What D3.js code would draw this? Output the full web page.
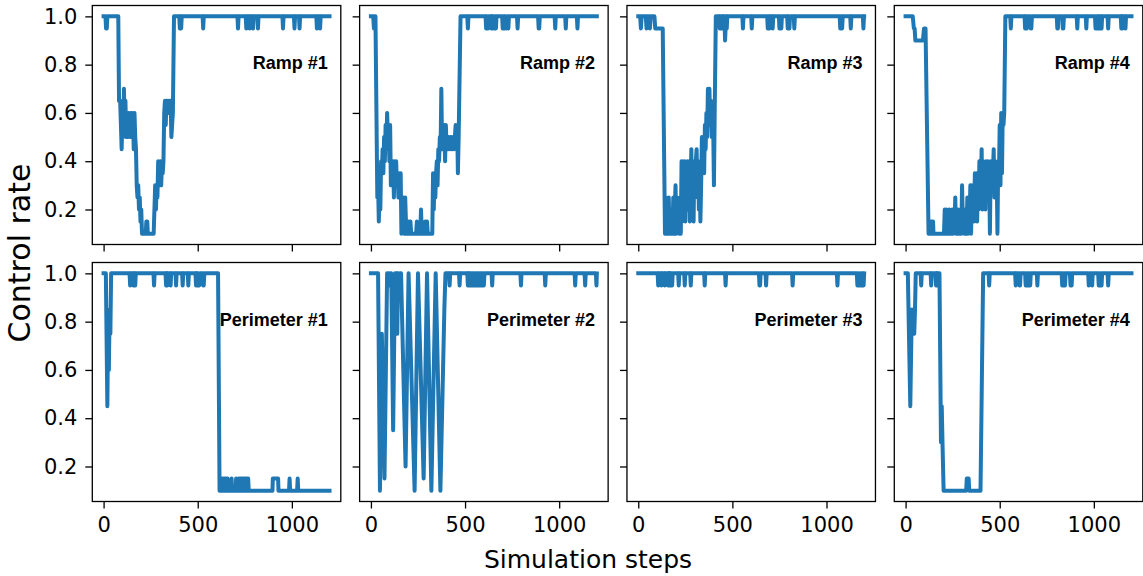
<!DOCTYPE html>
<html>
<head>
<meta charset="utf-8">
<script src="https://cdn.jsdelivr.net/npm/d3@7"></script>
<style>
  body { margin: 0; background: #fff; }
  svg { display: block; }
</style>
</head>
<body>
<svg id="chart" width="1143" height="576"></svg>
<script>
// Control rate per simulation step, as [step, rate] vertices for each controller.
const ramp1 = [[0,1],[10,1],[13,0.95],[17,0.95],[20,1],[78,1],[82,0.65],[88,0.65],[92,0.55],[96,0.45],[100,0.6],[104,0.5],[108,0.7],[112,0.55],[116,0.65],[120,0.5],[124,0.6],[128,0.5],[132,0.6],[136,0.55],[140,0.6],[144,0.5],[148,0.6],[152,0.55],[156,0.6],[160,0.45],[164,0.6],[168,0.5],[172,0.45],[176,0.3],[180,0.25],[184,0.3],[188,0.2],[192,0.25],[196,0.15],[200,0.2],[204,0.1],[224,0.1],[227,0.15],[232,0.15],[235,0.1],[266,0.1],[270,0.2],[274,0.3],[278,0.2],[282,0.3],[286,0.25],[290,0.4],[294,0.3],[298,0.35],[302,0.4],[306,0.3],[310,0.4],[314,0.35],[318,0.4],[322,0.6],[326,0.65],[330,0.55],[334,0.65],[338,0.6],[342,0.65],[346,0.6],[350,0.65],[356,0.65],[360,0.5],[364,0.55],[368,0.6],[374,1],[402,1],[405,0.95],[408,1],[412,0.95],[415,1],[526,1],[529,0.95],[532,1],[711,1],[714,0.95],[717,1],[755,1],[758,0.95],[761,1],[773,1],[776,0.95],[779,1],[791,1],[794,0.95],[797,1],[817,1],[820,0.95],[823,1],[950,1],[953,0.95],[956,1],[1011,1],[1014,0.95],[1017,1],[1038,1],[1041,0.95],[1044,1],[1130,1],[1133,0.95],[1136,1],[1147,1],[1150,0.95],[1153,1],[1200,1]];

const ramp2 = [[0,1],[12,1],[16,0.95],[20,1],[24,1],[34,0.25],[38,0.3],[42,0.15],[46,0.3],[50,0.2],[54,0.4],[58,0.35],[62,0.45],[66,0.35],[70,0.5],[74,0.4],[78,0.55],[82,0.45],[86,0.6],[90,0.5],[94,0.55],[98,0.4],[102,0.55],[106,0.3],[110,0.4],[114,0.3],[118,0.4],[122,0.25],[126,0.4],[130,0.3],[134,0.4],[138,0.3],[142,0.35],[146,0.25],[150,0.35],[154,0.3],[158,0.35],[162,0.1],[166,0.25],[170,0.15],[174,0.25],[178,0.1],[182,0.25],[186,0.15],[190,0.1],[194,0.15],[198,0.1],[202,0.15],[206,0.1],[210,0.15],[214,0.1],[240,0.1],[244,0.15],[248,0.1],[262,0.1],[266,0.2],[270,0.1],[284,0.1],[288,0.15],[292,0.1],[298,0.15],[302,0.1],[326,0.1],[330,0.35],[334,0.2],[338,0.35],[342,0.25],[346,0.35],[350,0.4],[354,0.3],[358,0.45],[362,0.4],[366,0.5],[370,0.45],[374,0.7],[378,0.45],[382,0.55],[386,0.45],[390,0.55],[394,0.4],[398,0.55],[402,0.45],[406,0.5],[410,0.45],[414,0.5],[418,0.45],[422,0.5],[426,0.45],[430,0.5],[434,0.45],[438,0.5],[442,0.45],[446,0.5],[450,0.55],[454,0.5],[458,0.55],[462,0.35],[466,0.5],[476,1],[512,1],[515,0.95],[518,1],[609,1],[612,0.95],[615,1],[619,0.95],[622,0.95],[625,1],[637,1],[640,0.95],[643,1],[647,0.95],[650,1],[654,0.95],[657,0.95],[660,1],[664,0.95],[667,1],[697,1],[700,0.95],[703,0.95],[706,1],[710,0.95],[713,1],[718,0.95],[721,0.95],[724,1],[730,0.95],[733,1],[776,1],[779,0.95],[782,1],[888,1],[891,0.95],[894,0.95],[897,1],[976,1],[979,0.95],[982,1],[1032,1],[1035,0.95],[1038,1],[1094,1],[1097,0.95],[1100,1],[1200,1]];

const ramp3 = [[0,1],[10,1],[14,0.95],[18,1],[40,1],[44,0.95],[48,1],[58,1],[62,0.95],[66,1],[86,1],[90,0.95],[130,0.95],[142,0.1],[146,0.25],[150,0.1],[154,0.2],[158,0.1],[162,0.25],[166,0.1],[170,0.15],[174,0.1],[178,0.2],[182,0.1],[186,0.25],[190,0.1],[194,0.2],[198,0.3],[202,0.1],[206,0.25],[210,0.15],[214,0.2],[218,0.1],[222,0.25],[226,0.1],[230,0.4],[234,0.15],[238,0.4],[242,0.2],[246,0.4],[250,0.15],[254,0.35],[258,0.2],[262,0.4],[266,0.2],[270,0.4],[274,0.15],[278,0.3],[282,0.45],[286,0.2],[290,0.4],[294,0.15],[298,0.4],[302,0.25],[306,0.4],[310,0.45],[314,0.3],[318,0.4],[322,0.2],[326,0.35],[330,0.15],[334,0.3],[338,0.5],[342,0.4],[346,0.5],[350,0.35],[354,0.55],[358,0.45],[362,0.6],[366,0.5],[370,0.7],[374,0.55],[378,0.7],[382,0.55],[386,0.65],[390,0.5],[394,0.6],[398,0.55],[402,0.3],[406,0.6],[412,1],[430,1],[433,0.95],[436,1],[439,0.95],[442,0.95],[445,1],[448,0.95],[451,1],[455,0.95],[458,1],[461,0.9],[464,0.95],[467,1],[470,0.95],[473,1],[553,1],[556,0.95],[559,1],[600,1],[603,0.95],[606,1],[685,1],[688,0.95],[691,0.95],[694,1],[697,0.95],[700,1],[711,1],[714,0.95],[717,1],[747,1],[750,0.95],[753,1],[760,0.95],[763,1],[791,1],[794,0.95],[797,1],[803,0.95],[806,1],[826,1],[829,0.95],[832,1],[1070,1],[1073,0.95],[1076,0.95],[1079,1],[1083,0.95],[1086,1],[1126,1],[1129,0.95],[1132,1],[1193,1],[1196,0.95],[1199,1],[1200,1]];

const ramp4 = [[0,1],[38,1],[44,0.95],[48,0.95],[52,0.9],[92,0.9],[98,0.95],[106,0.95],[122,0.1],[134,0.1],[136,0.15],[146,0.15],[148,0.1],[204,0.1],[208,0.2],[212,0.1],[216,0.2],[220,0.1],[224,0.15],[228,0.1],[232,0.2],[236,0.1],[240,0.15],[244,0.1],[248,0.2],[252,0.1],[256,0.2],[260,0.15],[264,0.25],[268,0.1],[272,0.2],[276,0.1],[280,0.2],[284,0.1],[288,0.15],[292,0.2],[296,0.1],[300,0.3],[304,0.15],[308,0.2],[312,0.1],[316,0.2],[320,0.15],[324,0.1],[328,0.25],[332,0.1],[336,0.25],[340,0.15],[344,0.3],[348,0.1],[352,0.3],[356,0.2],[360,0.3],[364,0.15],[368,0.35],[372,0.2],[376,0.35],[380,0.15],[384,0.3],[388,0.2],[392,0.4],[396,0.25],[400,0.3],[404,0.45],[408,0.2],[412,0.4],[416,0.3],[420,0.35],[424,0.2],[428,0.4],[432,0.3],[436,0.4],[440,0.25],[444,0.35],[448,0.1],[452,0.4],[456,0.3],[460,0.4],[464,0.35],[468,0.45],[472,0.25],[476,0.4],[480,0.3],[484,0.35],[488,0.1],[492,0.4],[496,0.35],[500,0.55],[504,0.3],[508,0.6],[512,0.35],[516,0.6],[520,0.55],[524,0.6],[530,1],[556,1],[559,0.95],[562,1],[632,1],[635,0.95],[638,1],[641,0.95],[644,0.95],[647,1],[662,1],[665,0.95],[668,0.95],[671,1],[803,1],[806,0.95],[809,0.95],[812,1],[832,1],[835,0.95],[838,0.95],[841,1],[909,1],[912,0.95],[915,1],[957,1],[960,0.95],[963,1],[1006,1],[1009,0.95],[1012,0.95],[1015,1],[1023,1],[1026,0.95],[1029,1],[1038,1],[1041,0.95],[1044,1],[1073,1],[1076,0.95],[1079,1],[1143,1],[1146,0.95],[1149,1],[1152,0.95],[1155,1],[1165,1],[1168,0.95],[1171,1],[1200,1]];

const perimeter1 = [[0,1],[12,1],[20,0.45],[24,0.8],[28,0.6],[32,0.85],[36,0.75],[40,1],[138,1],[141,0.95],[144,1],[155,1],[158,0.95],[161,1],[165,1],[168,0.95],[171,1],[265,1],[268,0.95],[271,1],[329,1],[332,0.95],[335,1],[338,0.95],[341,1],[353,1],[356,0.95],[359,1],[382,1],[385,0.95],[388,1],[417,1],[420,0.95],[423,1],[447,1],[450,0.95],[453,1],[488,1],[491,0.95],[494,1],[497,0.95],[500,1],[508,0.95],[511,1],[526,1],[529,0.95],[532,0.95],[535,1],[608,1],[616,0.1],[622,0.1],[624,0.15],[627,0.1],[629,0.15],[632,0.1],[634,0.15],[637,0.1],[639,0.15],[642,0.1],[644,0.15],[647,0.1],[649,0.15],[652,0.1],[654,0.15],[657,0.1],[659,0.15],[662,0.1],[678,0.1],[680,0.15],[683,0.1],[702,0.1],[704,0.15],[707,0.1],[716,0.1],[718,0.15],[721,0.1],[723,0.15],[726,0.1],[728,0.15],[731,0.1],[733,0.15],[736,0.1],[738,0.15],[741,0.1],[743,0.15],[746,0.1],[748,0.15],[751,0.1],[753,0.15],[756,0.1],[758,0.15],[761,0.1],[763,0.15],[766,0.1],[768,0.15],[771,0.1],[897,0.1],[899,0.15],[927,0.15],[929,0.1],[985,0.1],[988,0.15],[991,0.1],[1028,0.1],[1031,0.15],[1034,0.1],[1200,0.1]];

const perimeter2 = [[0,1],[38,1],[48,0.1],[58,0.75],[72,0.15],[86,1],[90,0.95],[94,1],[100,0.95],[104,1],[108,1],[118,0.35],[128,1],[132,0.95],[136,1],[140,0.75],[144,1],[150,0.95],[154,1],[160,1],[184,0.2],[200,1],[232,0.1],[250,1],[280,0.15],[298,1],[321,0.1],[344,1],[369,0.1],[390,0.85],[396,1],[415,1],[418,0.95],[421,1],[468,1],[471,0.95],[474,1],[512,1],[515,0.95],[518,1],[522,0.95],[525,1],[530,0.95],[533,1],[539,0.95],[542,1],[547,0.95],[550,1],[557,0.95],[560,1],[565,0.95],[568,1],[574,0.95],[577,1],[582,0.95],[585,1],[591,0.95],[594,1],[600,0.95],[603,1],[641,1],[644,0.95],[647,1],[794,1],[797,0.95],[800,1],[923,1],[926,0.95],[929,1],[1082,1],[1085,0.95],[1088,1],[1135,1],[1138,0.95],[1141,1],[1195,1],[1198,0.95],[1200,1]];

const perimeter3 = [[0,1],[103,1],[106,0.95],[109,1],[120,1],[123,0.95],[126,1],[138,1],[141,0.95],[144,1],[156,1],[159,0.95],[162,1],[165,0.95],[168,1],[171,0.95],[174,1],[180,0.95],[183,1],[212,1],[215,0.95],[218,1],[244,1],[247,0.95],[250,1],[276,1],[279,0.95],[282,1],[350,1],[353,0.95],[356,1],[461,1],[464,0.95],[467,1],[641,1],[644,0.95],[647,0.95],[650,1],[676,1],[679,0.95],[682,1],[817,1],[820,0.95],[823,1],[1055,1],[1058,0.95],[1061,1],[1161,1],[1164,0.95],[1167,1],[1170,0.95],[1173,1],[1180,0.95],[1183,1],[1190,0.95],[1193,1],[1197,0.95],[1200,1]];

const perimeter4 = [[0,1],[12,1],[25,0.45],[33,0.85],[38,0.75],[42,0.82],[46,0.75],[50,0.85],[54,1],[80,1],[83,0.95],[86,1],[133,1],[136,0.95],[139,1],[159,1],[162,0.95],[165,1],[168,0.95],[171,1],[180,1],[188,0.3],[192,0.45],[196,0.3],[202,0.1],[322,0.1],[325,0.15],[335,0.15],[338,0.1],[398,0.1],[412,1],[441,1],[444,0.95],[447,1],[582,1],[585,0.95],[588,1],[602,1],[605,0.95],[608,0.95],[611,1],[635,1],[638,0.95],[641,1],[644,0.95],[647,1],[653,0.95],[656,1],[662,0.95],[665,1],[697,1],[700,0.95],[703,1],[829,1],[832,0.95],[835,1],[838,0.95],[841,1],[847,0.95],[850,1],[873,1],[876,0.95],[879,1],[882,0.95],[885,1],[970,1],[973,0.95],[976,1],[988,1],[991,0.95],[994,1],[1023,1],[1026,0.95],[1029,1],[1035,0.95],[1038,1],[1041,0.95],[1044,1],[1073,1],[1076,0.95],[1079,1],[1200,1]];

const panelTitles = ["Ramp #1", "Ramp #2", "Ramp #3", "Ramp #4",
                     "Perimeter #1", "Perimeter #2", "Perimeter #3", "Perimeter #4"];
const panelSeries = [ramp1, ramp2, ramp3, ramp4, perimeter1, perimeter2, perimeter3, perimeter4];

const xTickValues = [0, 500, 1000];
const yTickValues = [0.2, 0.4, 0.6, 0.8, 1.0];
const stepDomain = [-60, 1260];
const rateDomain = [0.055, 1.045];

const xAxisLabel = "Simulation steps";
const yAxisLabel = "Control rate";

// Layout of the 2 x 4 grid of panels
const panelW = 248.5, panelH = 239;
const colLeft = c => 92.3 + c * 267.33;
const rowTop = [5.5, 262.5];
const lineColor = "#1f77b4";
const tickFont = "'DejaVu Sans', sans-serif";

const svg = d3.select("#chart");
svg.append("rect").attr("width", 1143).attr("height", 576).attr("fill", "#fff");

panelSeries.forEach((series, k) => {
  const r = Math.floor(k / 4), c = k % 4;
  const g = svg.append("g").attr("transform", `translate(${colLeft(c)},${rowTop[r]})`);

  const x = d3.scaleLinear().domain(stepDomain).range([0, panelW]);
  const y = d3.scaleLinear().domain(rateDomain).range([panelH, 0]);

  const line = d3.line().x(d => x(d[0])).y(d => y(d[1]));
  g.append("path")
    .datum(series)
    .attr("d", line)
    .attr("fill", "none")
    .attr("stroke", lineColor)
    .attr("stroke-width", 4)
    .attr("stroke-linejoin", "round")
    .attr("stroke-linecap", "square");

  // x axis (labels only on the bottom row)
  const xAxis = d3.axisBottom(x).tickValues(xTickValues).tickSize(7).tickPadding(9)
    .tickFormat(d3.format("d")).tickSizeOuter(0);
  if (r === 0) xAxis.tickFormat("");
  const gx = g.append("g").attr("transform", `translate(0,${panelH})`).call(xAxis);

  // y axis (labels only on the first column)
  const yAxis = d3.axisLeft(y).tickValues(yTickValues).tickSize(7).tickPadding(8)
    .tickFormat(d3.format(".1f")).tickSizeOuter(0);
  if (c !== 0) yAxis.tickFormat("");
  const gy = g.append("g").call(yAxis);

  [gx, gy].forEach(a => {
    a.select(".domain").remove();
    a.selectAll(".tick line").attr("stroke", "#000").attr("stroke-width", 1.3);
    a.selectAll(".tick text").attr("fill", "#000")
      .style("font-family", tickFont).style("font-size", "21px");
  });

  // frame
  g.append("rect")
    .attr("width", panelW).attr("height", panelH)
    .attr("fill", "none").attr("stroke", "#000").attr("stroke-width", 1.3);

  // panel title
  g.append("text")
    .attr("x", panelW - 13)
    .attr("y", 63.5)
    .attr("text-anchor", "end")
    .style("font-family", "'Liberation Sans', Arial, sans-serif")
    .style("font-weight", "bold")
    .style("font-size", "18px")
    .attr("fill", "#000")
    .text(panelTitles[k]);
});

svg.append("text")
  .attr("x", 588).attr("y", 568)
  .attr("text-anchor", "middle")
  .style("font-family", tickFont).style("font-size", "25px")
  .attr("fill", "#000")
  .text(xAxisLabel);

svg.append("text")
  .attr("transform", "translate(30,253) rotate(-90)")
  .attr("text-anchor", "middle")
  .style("font-family", tickFont).style("font-size", "30px")
  .attr("fill", "#000")
  .text(yAxisLabel);
</script>
</body>
</html>
